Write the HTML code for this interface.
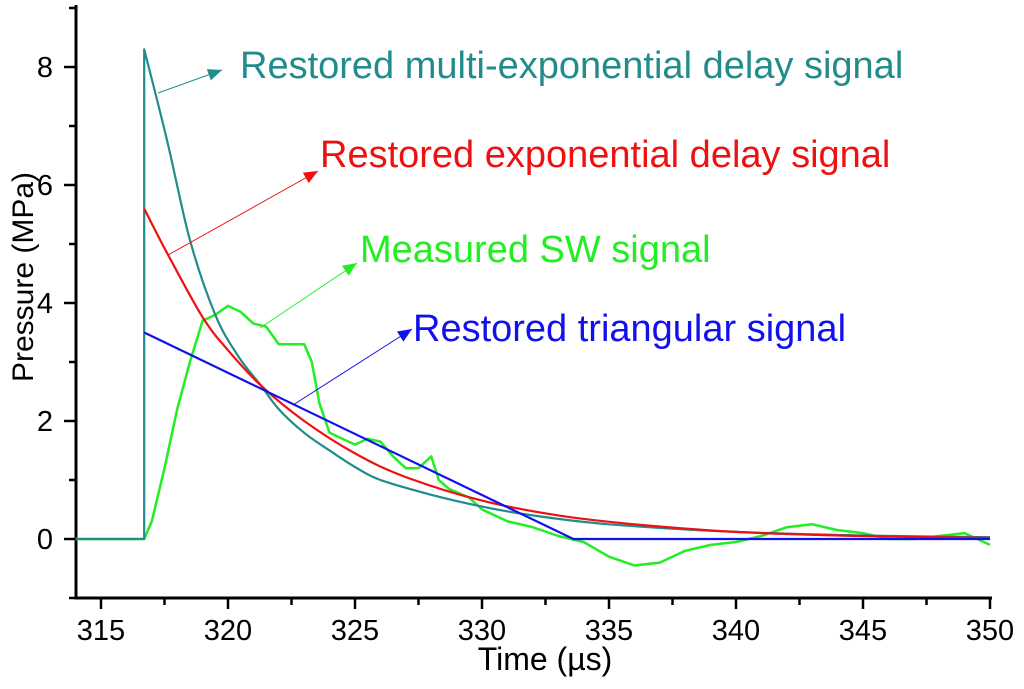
<!DOCTYPE html>
<html><head><meta charset="utf-8"><style>
body{margin:0;background:#fff}
text{font-family:"Liberation Sans",sans-serif}
</style></head><body>
<svg id="c" width="1024" height="684"></svg>
<script>
const xTicks=[315,320,325,330,335,340,345,350];
const yTicks=[0,2,4,6,8];
const measuredT=[314,316.7,317,317.5,318,318.5,319,319.5,320,320.5,321,321.5,322,322.5,323,323.3,323.6,324,324.5,325,325.5,326,326.5,327,327.5,328,328.3,328.7,329.5,330,331,332,333,334,335,336,337,338,339,340,341,342,343,344,345,346,347,348,349,350];
const measuredP=[0,0,0.3,1.2,2.2,3.0,3.7,3.8,3.95,3.85,3.65,3.6,3.3,3.3,3.3,3.0,2.3,1.8,1.7,1.6,1.7,1.65,1.4,1.2,1.2,1.4,1.0,0.85,0.7,0.5,0.3,0.2,0.05,-0.05,-0.3,-0.45,-0.4,-0.2,-0.1,-0.05,0.05,0.2,0.25,0.15,0.1,0,0,0.05,0.1,-0.1];
const multiT=[316.7,317.6,318.5,319.5,320.4,321.3,322,323,324,325,326,328,330,332,335,340,345,350];
const multiP=[8.3,6.76,5.07,3.8,3.1,2.6,2.2,1.8,1.5,1.22,1.0,0.75,0.55,0.4,0.25,0.12,0.06,0.03];
const expT=[316.7,317.6,319,320,321.3,323,325,327,330,333,336,340,345,350];
const expP=[5.6,4.85,3.76,3.2,2.6,2.0,1.45,1.05,0.65,0.4,0.25,0.12,0.05,0.02];
const triT=[316.7,333.6,350];
const triP=[3.5,0,0];
const X=t=>101+(t-315)*25.4, Y=p=>539-p*59;
const svg=document.getElementById('c');const NS='http://www.w3.org/2000/svg';
function el(tag,at,txt){const e=document.createElementNS(NS,tag);for(const k in at)e.setAttribute(k,at[k]);if(txt!=null)e.textContent=txt;svg.appendChild(e);return e;}
let e;
e=el('path',{d:`M76,5V598H992`,stroke:'#000','stroke-width':3,fill:'none'});


for(let t=315;t<=350;t+=2.5){const maj=t%5===0;e=el('line',{x1:X(t),x2:X(t),y1:598,y2:maj?609:605,stroke:'#000','stroke-width':2.5});

}
xTicks.forEach(t=>{e=el('text',{x:X(t),y:640,'font-size':29,'text-anchor':'middle'},t);

});
for(let p=-1;p<=9;p++){const maj=p%2===0;e=el('line',{x1:maj?64:69,x2:76,y1:Y(p),y2:Y(p),stroke:'#000','stroke-width':2.5});

}
yTicks.forEach(p=>{e=el('text',{x:53,y:Y(p)+10,'font-size':29,'text-anchor':'end'},p);

});
e=el('text',{x:545,y:670,'font-size':32,'text-anchor':'middle'},'Time (µs)');


e=el('text',{x:0,y:0,'font-size':30,'text-anchor':'middle',transform:'translate(33,277) rotate(-90)'},'Pressure (MPa)');


function line(ts,ps,col,w,name,pre,smooth){const P=ts.map((t,i)=>[X(t),Y(ps[i])]);let d=pre?pre+'L':'M';d+=P[0][0].toFixed(1)+','+P[0][1].toFixed(1);
for(let i=1;i<P.length;i++){if(smooth){const p0=P[Math.max(0,i-2)],p1=P[i-1],p2=P[i],p3=P[Math.min(P.length-1,i+1)];
d+=`C${(p1[0]+(p2[0]-p0[0])/6).toFixed(1)},${(p1[1]+(p2[1]-p0[1])/6).toFixed(1)} ${(p2[0]-(p3[0]-p1[0])/6).toFixed(1)},${(p2[1]-(p3[1]-p1[1])/6).toFixed(1)} ${p2[0].toFixed(1)},${p2[1].toFixed(1)}`;}else d+='L'+P[i][0].toFixed(1)+','+P[i][1].toFixed(1);}
e=el('path',{d,stroke:col,'stroke-width':w,fill:'none','stroke-linejoin':'round'});

}
line(measuredT,measuredP,'#22ee22',2.5,'measured-sw-line');
line(multiT,multiP,'#228b8b',2.2,'multi-exponential-line','M'+X(314)+','+Y(0)+'L'+X(316.7)+','+Y(0),true);
line(expT,expP,'#ee1111',2.2,'exponential-line',null,true);
line(triT,triP,'#1111ee',2.2,'triangular-line');
function ann(x1,y1,x2,y2,col,tx,ty,txt,name){const a=Math.atan2(y2-y1,x2-x1),L=14,W=6;
e=el('line',{x1,y1,x2,y2,stroke:col,'stroke-width':1});


const p=[[x2,y2],[x2-L*Math.cos(a)+W*Math.sin(a),y2-L*Math.sin(a)-W*Math.cos(a)],[x2-L*Math.cos(a)-W*Math.sin(a),y2-L*Math.sin(a)+W*Math.cos(a)]];
e=el('polygon',{points:p.map(q=>q.join(',')).join(' '),fill:col});


e=el('text',{x:tx,y:ty,'font-size':38,fill:col},txt);

}
ann(158,93,222,70,'#228b8b',240,78,'Restored multi-exponential delay signal','multi-exponential');
ann(168,255,318,171,'#ee1111',320,167,'Restored exponential delay signal','exponential');
ann(260,328,357,263,'#22ee22',360,262,'Measured SW signal','measured');
ann(293,405,412,329,'#1111ee',413,341,'Restored triangular signal','triangular');
</script></body></html>
